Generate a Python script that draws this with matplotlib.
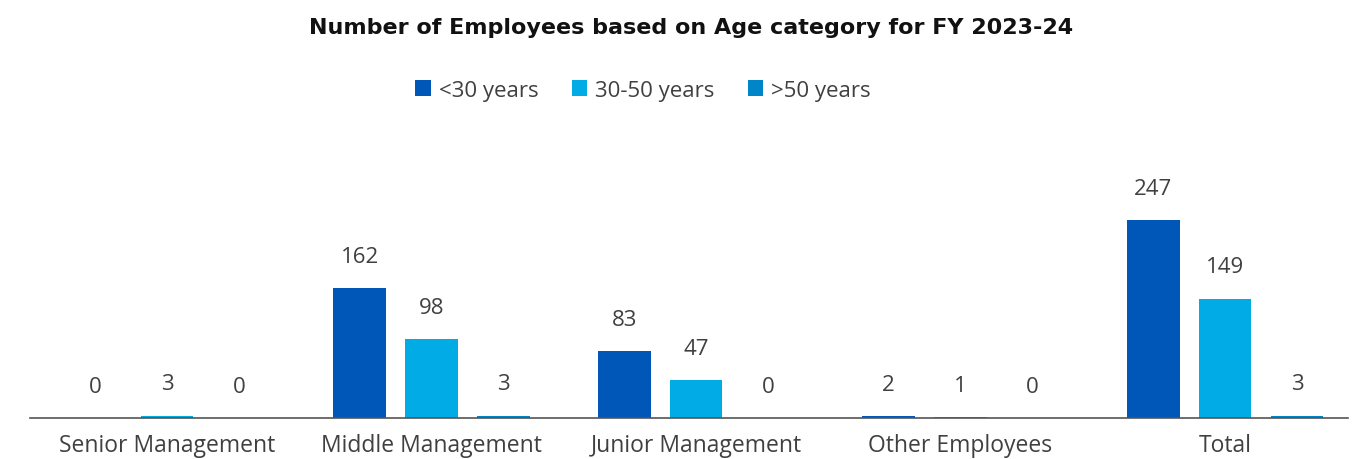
import matplotlib
matplotlib.use("Agg")
import matplotlib.pyplot as plt
import numpy as np
from matplotlib.patches import Patch

categories = ["Senior Management", "Middle Management", "Junior Management", "Other Employees", "Total"]
series_names = ["<30 years", "30-50 years", ">50 years"]
under_30 = [0, 162, 83, 2, 247]
between_30_50 = [3, 98, 47, 1, 149]
over_50 = [0, 3, 0, 0, 3]
colors = ["#0057B8", "#00ABE6", "#0085C8"]

plt.rcParams['font.family'] = ['Open Sans', 'DejaVu Sans']

fig = plt.figure(figsize=(13.67, 4.6), dpi=100)
ax = fig.add_axes([30/1367, 1 - 419/460, 1318/1367, 240.5/460])

x = np.arange(len(categories))
width = 0.2
offset = 0.272
text_color = "#404040"
for i, (vals, col) in enumerate(zip([under_30, between_30_50, over_50], colors)):
    pos = x + (i - 1) * offset
    bars = ax.bar(pos, vals, width=width, color=col)
    for b, v in zip(bars, vals):
        ax.annotate(str(v), (b.get_x() + b.get_width()/2, b.get_height()),
                    xytext=(0, 23), textcoords="offset points",
                    ha="center", va="center", fontsize=16, color=text_color,
                    annotation_clip=False)

ax.set_xlim(-0.518, 4.465)
ax.set_ylim(0, 300)
ax.set_xticks(x)
ax.set_xticklabels(categories, fontsize=16.5, color=text_color)
ax.tick_params(axis="x", length=0, pad=11)
ax.set_yticks([])
for s in ["top", "right", "left"]:
    ax.spines[s].set_visible(False)
ax.spines["bottom"].set_color("#555555")
ax.spines["bottom"].set_linewidth(1.2)

fig.text(691/1367, 1 - 28/460, "Number of Employees based on Age category for FY 2023-24",
         ha="center", va="center", fontsize=16, fontweight="bold", color="#111111",
         family="DejaVu Sans")

handles = [Patch(facecolor=c, edgecolor="none") for c in colors]
fig.legend(handles, series_names, loc="center", bbox_to_anchor=(643/1367, 1 - 91/460),
           ncol=3, frameon=False, fontsize=16, handlelength=0.7, handleheight=0.7,
           handletextpad=0.35, columnspacing=1.5, labelcolor=text_color)

fig.savefig("out.png", dpi=100)
